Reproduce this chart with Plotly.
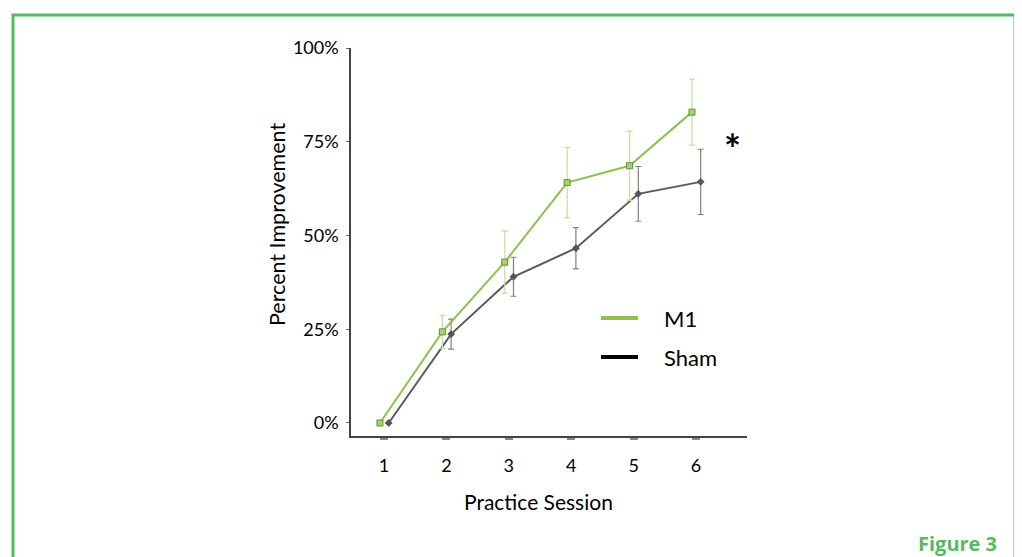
import plotly.graph_objects as go

sessions = [1, 2, 3, 4, 5, 6]
m1_mean = [0, 24.3, 42.9, 64.1, 68.6, 82.9]
m1_err = [0, 4.4, 8.3, 9.4, 9.2, 8.8]
sham_mean = [0, 23.7, 39.0, 46.6, 61.1, 64.3]
sham_err = [0, 4.0, 5.2, 5.5, 7.3, 8.7]
y_ticks = [0, 25, 50, 75, 100]
y_tick_labels = ["0%", "25%", "50%", "75%", "100%"]

M1_OFF = -0.065
SHAM_OFF = 0.075

GREEN = "#8cc152"
BORDER = "#55bb5e"
TEXT = "#000000"

# page body has an 8px margin; figure coordinates are page pixels minus 8
OFF = 8
W, H = 1022 - OFF, 557 - OFF
PL, PR, PT, PB = 351 - OFF, 747 - OFF, 48 - OFF, 436 - OFF

fig = go.Figure()
fig.add_trace(go.Scatter(
    x=[s + SHAM_OFF for s in sessions], y=sham_mean, mode="lines+markers",
    line=dict(color="#5a5a5a", width=2),
    marker=dict(symbol="diamond", size=6, color="#555555"),
    error_y=dict(type="data", array=sham_err, color="#808080", thickness=1.2, width=3),
    showlegend=False, name="Sham"))
fig.add_trace(go.Scatter(
    x=[s + M1_OFF for s in sessions], y=m1_mean, mode="lines+markers",
    line=dict(color=GREEN, width=2),
    marker=dict(symbol="square", size=6, color="#a9d36f", line=dict(color="#5f8f35", width=1)),
    error_y=dict(type="data", array=m1_err, color="#cbe0a0", thickness=1.3, width=3),
    showlegend=False, name="M1"))

fig.update_layout(
    width=W, height=H,
    margin=dict(l=PL, r=W - PR, t=PT, b=H - PB),
    paper_bgcolor="white", plot_bgcolor="white",
    font=dict(family="Lato", color=TEXT),
    xaxis=dict(range=[0.471, 6.817], tickmode="array", tickvals=sessions,
               ticktext=[str(s) for s in sessions], showgrid=False, zeroline=False,
               showline=True, linecolor="#444444", linewidth=1.5,
               ticks="outside", ticklen=2, tickwidth=8, tickcolor="#888888",
               tickfont=dict(size=18, family="Lato", color=TEXT), ticklabelstandoff=11),
    yaxis=dict(range=[-3.47, 100], tickmode="array", tickvals=y_ticks,
               ticktext=y_tick_labels, showgrid=False, zeroline=False,
               showline=True, linecolor="#444444", linewidth=1.5,
               ticks="outside", ticklen=3, tickwidth=1, tickcolor="#666666",
               tickfont=dict(size=18, family="Lato", color=TEXT), ticklabelstandoff=4),
)

def px_x(p):
    return (p - OFF - PL) / (PR - PL)
def px_y(p):
    return (PB - (p - OFF)) / (PB - PT)

# axis titles
fig.add_annotation(text="Percent Improvement", xref="paper", yref="paper",
                   x=px_x(262), y=px_y(225), textangle=-90, showarrow=False,
                   font=dict(size=21.5, family="Lato", color=TEXT))
fig.add_annotation(text="Practice Session", xref="paper", yref="paper",
                   x=px_x(538), y=px_y(501), showarrow=False, yanchor="middle",
                   font=dict(size=21, family="Lato", color=TEXT))

# significance asterisk
fig.add_annotation(text="<b>*</b>", x=6.58, y=75, xref="x", yref="y", showarrow=False,
                   yshift=-7, font=dict(size=40, family="Lato", color=TEXT))

# legend
for py, col, label in [(318, GREEN, "M1"), (357, "#000000", "Sham")]:
    fig.add_shape(type="line", xref="paper", yref="paper", x0=px_x(601), x1=px_x(638),
                  y0=px_y(py), y1=px_y(py), line=dict(color=col, width=4))
    fig.add_annotation(text=label, xref="paper", yref="paper", x=px_x(662), y=px_y(py),
                       xanchor="left", yanchor="middle", showarrow=False,
                       font=dict(size=22, family="Lato", color=TEXT))

# frame border
fig.add_shape(type="path", xref="paper", yref="paper",
              path=f"M {px_x(13)} {px_y(600)} L {px_x(13)} {px_y(15)} L {px_x(1015)} {px_y(15)} L {px_x(1015)} {px_y(600)}",
              line=dict(color=BORDER, width=3))
fig.add_annotation(text="<b>Figure 3</b>", xref="paper", yref="paper",
                   x=px_x(999), y=px_y(543), xanchor="right", yanchor="middle", showarrow=False,
                   font=dict(size=20, family="Open Sans", color=BORDER))

fig.write_html("out.html")
